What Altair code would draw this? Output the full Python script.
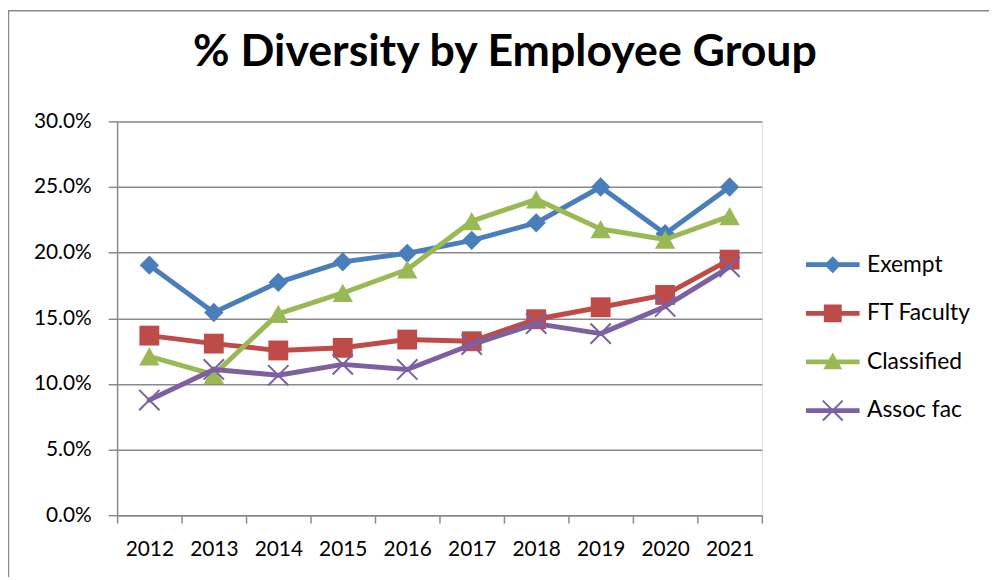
import altair as alt
import pandas as pd

years = [2012, 2013, 2014, 2015, 2016, 2017, 2018, 2019, 2020, 2021]
series_names = ["Exempt", "FT Faculty", "Classified", "Assoc fac"]
exempt = [19.05, 15.44, 17.74, 19.30, 19.95, 20.94, 22.27, 25.0, 21.44, 25.0]
ft_faculty = [13.68, 13.07, 12.55, 12.75, 13.38, 13.25, 14.93, 15.84, 16.78, 19.47]
classified = [12.1, 10.7, 15.34, 16.93, 18.72, 22.4, 24.06, 21.8, 21.0, 22.78]
assoc_fac = [8.77, 11.1, 10.66, 11.49, 11.1, 13.0, 14.59, 13.83, 15.9, 18.92]
y_ticks = [0, 0.05, 0.10, 0.15, 0.20, 0.25, 0.30]
x_ticks = [2011.5, 2012.5, 2013.5, 2014.5, 2015.5, 2016.5, 2017.5, 2018.5, 2019.5, 2020.5, 2021.5]

colors = ["#4a7ebb", "#be4b48", "#98b954", "#7d60a0"]

DIAMOND = "M0,-1L1,0L0,1L-1,0Z"
SQUARE = "M-1,-1L1,-1L1,1L-1,1Z"
TRIANGLE = "M0,-0.9L1,0.9L-1,0.9Z"
XMARK = ("M-0.93,-1.07L1.07,0.93L0.93,1.07L-1.07,-0.93Z"
         "M-0.93,1.07L-1.07,0.93L0.93,-1.07L1.07,-0.93Z")
marker_paths = [DIAMOND, SQUARE, TRIANGLE, XMARK]
marker_sizes = [380, 400, 420, 420]

LINE = "M-2.7,-0.24L2.7,-0.24L2.7,0.24L-2.7,0.24Z"
legend_paths = [
    LINE + "M0,-0.85L0.85,0L0,0.85L-0.85,0Z",
    LINE + "M-0.9,-0.9L0.9,-0.9L0.9,0.9L-0.9,0.9Z",
    LINE + "M0,-0.95L0.95,0.75L-0.95,0.75Z",
    LINE + ("M-0.93,-1.07L1.07,0.93L0.93,1.07L-1.07,-0.93Z"
            "M-0.93,1.07L-1.07,0.93L0.93,-1.07L1.07,-0.93Z"),
]

values = [exempt, ft_faculty, classified, assoc_fac]
rows = []
for name, vals in zip(series_names, values):
    for yr, v in zip(years, vals):
        rows.append({"year": yr, "series": name, "value": v / 100.0})
df = pd.DataFrame(rows)

FONT = "Lato"
GRID = "#8a8a8a"

x_enc = alt.X(
    "year:Q",
    scale=alt.Scale(domain=[2011.5, 2021.5], nice=False, zero=False),
    axis=alt.Axis(
        title=None, values=x_ticks, grid=False,
        labelExpr="datum.value < 2021 ? format(datum.value + 0.5, 'd') : ''",
        labelOffset=32.5, labelFontSize=21, labelFont=FONT, labelColor="#000000",
        labelPadding=16, tickSize=8, tickColor=GRID, tickWidth=1.5,
        domainColor=GRID, domainWidth=1.5, labelFlush=False, labelOverlap=False,
    ),
)
y_enc = alt.Y(
    "value:Q",
    scale=alt.Scale(domain=[0, 0.30], nice=False),
    axis=alt.Axis(
        title=None, values=y_ticks, format=".1%", grid=True, gridColor=GRID,
        gridWidth=1.5, labelFontSize=21, labelFont=FONT, labelColor="#000000",
        labelPadding=17, tickSize=9, tickColor=GRID, tickWidth=1.5,
        domainColor=GRID, domainWidth=1.5,
    ),
)

base = alt.Chart(df)
layers = []

frame = alt.Chart(alt.Data(values=[{}])).mark_rect(
    filled=False, stroke="#8a8a8a", strokeWidth=1.5
).encode(
    x=alt.value(-109.5), x2=alt.value(950), y=alt.value(-111.5), y2=alt.value(520)
)
layers.append(frame)

for i, name in enumerate(series_names):
    sub = base.transform_filter(alt.datum.series == name)
    line = sub.mark_line(
        color=colors[i], strokeWidth=5, strokeCap="round", strokeJoin="round"
    ).encode(x=x_enc, y=y_enc)
    pts = sub.mark_point(
        shape=marker_paths[i], size=marker_sizes[i], filled=True,
        color=colors[i], opacity=1, strokeWidth=0
    ).encode(x=x_enc, y=y_enc)
    layers.extend([line, pts])

legend_cfg = dict(
    title=None, orient="none", legendX=710, legendY=133,
    symbolSize=400, labelFontSize=23, labelFont=FONT,
    labelColor="#000000", labelOffset=23, rowPadding=25,
    padding=0, labelLimit=300, symbolStrokeWidth=0,
)
legend_layer = base.transform_filter("false").mark_point(
    filled=True, opacity=1, strokeWidth=0
).encode(
    x=x_enc, y=y_enc,
    color=alt.Color(
        "series:N",
        scale=alt.Scale(domain=series_names, range=colors),
        legend=alt.Legend(**legend_cfg),
    ),
    shape=alt.Shape(
        "series:N",
        scale=alt.Scale(domain=series_names, range=legend_paths),
        legend=alt.Legend(**legend_cfg),
    ),
)
layers.append(legend_layer)

chart = alt.layer(*layers).properties(
    width=650,
    height=397,
    autosize=alt.AutoSizeParams(type="none"),
    padding={"left": 110, "top": 112, "right": 229, "bottom": 60},
    title=alt.TitleParams(
        text="% Diversity by Employee Group", fontSize=45, font=FONT,
        fontWeight="bold", anchor="middle", dx=66, offset=-101,
        baseline="alphabetic", color="#000000",
    ),
).configure_view(stroke=None).configure(background="white")

chart.save("out.html", embed_options={"renderer": "svg", "actions": False})
